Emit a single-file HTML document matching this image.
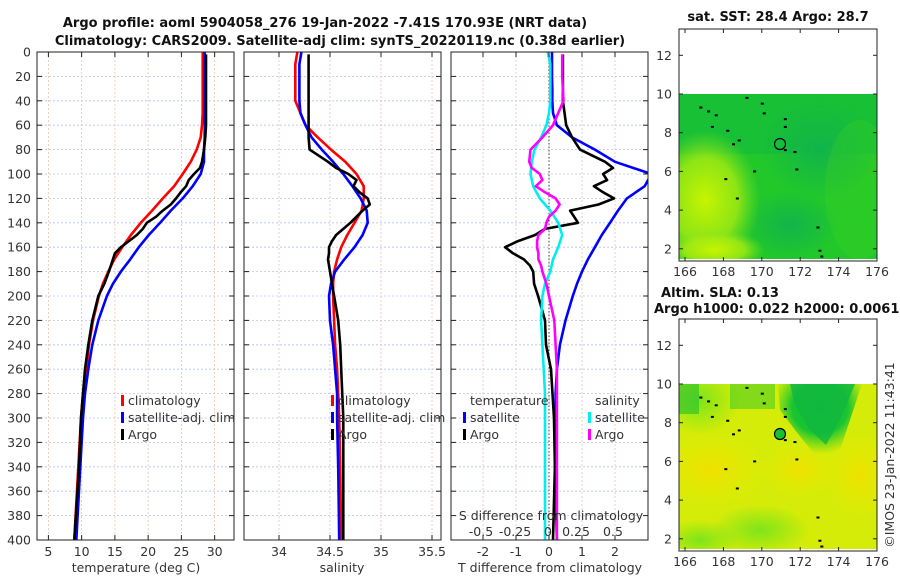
<!DOCTYPE html>
<html><head><meta charset="utf-8">
<style>
body{margin:0;background:#fff;}
svg{display:block;font-family:"DejaVu Sans","Liberation Sans",sans-serif;}
.t{font-size:12.5px;fill:#333;}
.b{font-size:13px;font-weight:bold;fill:#111;}
</style></head>
<body>
<svg id="fig" width="900" height="580" viewBox="0 0 900 580">
<defs>
<clipPath id="c1"><rect x="37" y="52" width="197" height="488"/></clipPath>
<clipPath id="c2"><rect x="244" y="52" width="197" height="488"/></clipPath>
<clipPath id="c3"><rect x="451" y="52" width="197" height="488"/></clipPath>
<clipPath id="m1"><rect x="679" y="94" width="198" height="165"/></clipPath>
<clipPath id="m2"><rect x="679" y="384" width="198" height="165"/></clipPath>
<radialGradient id="gy1" cx="0.5" cy="0.5" r="0.5"><stop offset="0" stop-color="#c8f400"/><stop offset="0.6" stop-color="#a8ec10" stop-opacity="0.8"/><stop offset="1" stop-color="#7ee020" stop-opacity="0"/></radialGradient>
<radialGradient id="gd1" cx="0.5" cy="0.5" r="0.5"><stop offset="0" stop-color="#12b44a"/><stop offset="1" stop-color="#12b44a" stop-opacity="0"/></radialGradient>
<radialGradient id="go2" cx="0.5" cy="0.5" r="0.5"><stop offset="0" stop-color="#f0e000"/><stop offset="1" stop-color="#e8ec00" stop-opacity="0"/></radialGradient>
<radialGradient id="gg2" cx="0.5" cy="0.5" r="0.5"><stop offset="0" stop-color="#7ee41a"/><stop offset="1" stop-color="#7ee41a" stop-opacity="0"/></radialGradient>
<radialGradient id="gv2" cx="0.5" cy="0.3" r="0.6"><stop offset="0" stop-color="#0fbe3a"/><stop offset="0.55" stop-color="#18c430"/><stop offset="1" stop-color="#40d020" stop-opacity="0"/></radialGradient>
</defs>

<text class="b" x="325" y="27" text-anchor="middle">Argo profile: aoml 5904058_276 19-Jan-2022 -7.41S 170.93E (NRT data)</text>
<text class="b" x="340" y="45" text-anchor="middle">Climatology: CARS2009. Satellite-adj clim: synTS_20220119.nc (0.38d earlier)</text>

<g id="grids"></g>
<g id="series"></g>
<g id="frames"></g>

<g>
<rect x="121" y="395" width="3" height="11" fill="#f00"/><text class="t" x="128" y="405">climatology</text>
<rect x="121" y="412" width="3" height="11" fill="#00f"/><text class="t" x="128" y="422">satellite-adj. clim</text>
<rect x="121" y="429" width="3" height="11" fill="#000"/><text class="t" x="128" y="439">Argo</text>
</g>
<g>
<rect x="331" y="395" width="3" height="11" fill="#f00"/><text class="t" x="338" y="405">climatology</text>
<rect x="331" y="412" width="3" height="11" fill="#00f"/><text class="t" x="338" y="422">satellite-adj. clim</text>
<rect x="331" y="429" width="3" height="11" fill="#000"/><text class="t" x="338" y="439">Argo</text>
</g>
<g>
<text class="t" x="470" y="405">temperature</text>
<rect x="463" y="412" width="3" height="11" fill="#00f"/><text class="t" x="470" y="422">satellite</text>
<rect x="463" y="429" width="3" height="11" fill="#000"/><text class="t" x="470" y="439">Argo</text>
<text class="t" x="595" y="405">salinity</text>
<rect x="588" y="412" width="3" height="11" fill="#0ee"/><text class="t" x="595" y="422">satellite</text>
<rect x="588" y="429" width="3" height="11" fill="#f0f"/><text class="t" x="595" y="439">Argo</text>
</g>
<text class="t" x="551" y="520" text-anchor="middle">S difference from climatology</text>
<g>
<text class="t" x="481" y="536" text-anchor="middle">-0.5</text>
<text class="t" x="515" y="536" text-anchor="middle">-0.25</text>
<text class="t" x="548" y="536" text-anchor="middle">0</text>
<text class="t" x="576" y="536" text-anchor="middle">0.25</text>
<text class="t" x="613" y="536" text-anchor="middle">0.5</text>
</g>
<text class="t" x="136" y="572" text-anchor="middle">temperature (deg C)</text>
<text class="t" x="342" y="572" text-anchor="middle">salinity</text>
<text class="t" x="550" y="572" text-anchor="middle">T difference from climatology</text>

<text class="b" x="778" y="21" text-anchor="middle">sat. SST: 28.4 Argo: 28.7</text>
<g clip-path="url(#m1)">
<rect x="679" y="94" width="198" height="165" fill="#22c82a"/>
<rect x="679" y="94" width="198" height="60" fill="#12bc3a" opacity="0.7"/>
<ellipse cx="820" cy="150" rx="60" ry="50" fill="url(#gd1)"/>
<ellipse cx="790" cy="225" rx="50" ry="35" fill="url(#gd1)"/>
<ellipse cx="705" cy="200" rx="55" ry="70" fill="url(#gy1)"/>
<ellipse cx="715" cy="250" rx="50" ry="20" fill="url(#gy1)"/>
<ellipse cx="860" cy="190" rx="35" ry="70" fill="#40d020" opacity="0.3"/>
</g>
<g clip-path="url(#m2)">
<rect x="679" y="384" width="198" height="165" fill="#d4ec08"/>
<ellipse cx="710" cy="470" rx="60" ry="40" fill="url(#go2)"/>
<ellipse cx="860" cy="475" rx="40" ry="45" fill="url(#go2)"/>
<ellipse cx="800" cy="470" rx="40" ry="30" fill="url(#go2)"/>
<ellipse cx="700" cy="540" rx="40" ry="20" fill="url(#gg2)"/>
<ellipse cx="760" cy="530" rx="50" ry="25" fill="url(#gg2)"/>
<ellipse cx="700" cy="400" rx="40" ry="35" fill="url(#gg2)"/>
<path d="M778 384 L862 384 L850 420 L840 450 L828 462 L815 455 L795 430 L780 410 Z" fill="url(#gv2)"/>
<path d="M790 384 L855 384 L840 420 L826 445 L810 430 L795 405 Z" fill="#10b840" opacity="0.8"/>
<rect x="679" y="384" width="20" height="30" fill="#20c030" opacity="0.6"/>
<rect x="730" y="384" width="45" height="25" fill="#30c828" opacity="0.5"/>
</g>
<g id="islands"></g>
<circle cx="780" cy="144" r="5.5" fill="none" stroke="#000" stroke-width="1.2"/>
<circle cx="780" cy="434" r="5.5" fill="#18c030" stroke="#000" stroke-width="1.2"/>
<text class="b" x="720" y="297" text-anchor="middle">Altim. SLA: 0.13</text>
<text class="b" x="654" y="313">Argo h1000: 0.022 h2000: 0.0061</text>
<text class="t" x="894" y="455" text-anchor="middle" transform="rotate(-90 894 455)">©IMOS 23-Jan-2022 11:43:41</text>
<g id="mapaxes"></g>
</svg>

<script>
// ---- data ----
const depthT = [0,10,20,30,40,50,60,70,80,90,100,110,120,130,140,150,160,170,180,190,200,220,240,260,280,300,340,400];
const tempClim = [28.2,28.2,28.2,28.2,28.2,28.2,28.1,27.9,27.3,26.4,25.2,23.9,22.2,20.6,18.9,17.4,16.1,14.9,14.0,13.2,12.6,11.7,11.1,10.7,10.2,9.9,9.5,8.9];
const tempSat = [28.5,28.5,28.5,28.5,28.5,28.5,28.5,28.5,28.4,28.4,27.9,26.7,25.2,23.4,21.8,20.1,18.6,17.3,15.9,14.7,13.8,12.5,11.6,11.0,10.5,10.2,9.8,9.2];
const depthArgo = [2,20,40,60,70,80,90,95,100,105,110,115,120,125,130,135,140,145,150,155,160,165,170,175,180,190,200,220,240,260,300,340,400];
const tempArgo = [28.7,28.7,28.7,28.7,28.6,28.4,28.1,27.8,26.9,26.1,25.7,24.9,24.2,23.4,22.2,21.2,19.8,19.2,18.3,17.1,15.9,15.0,14.7,14.4,14.1,13.4,12.5,11.6,11.0,10.5,9.9,9.6,8.9];
const salClim = [34.18,34.16,34.16,34.16,34.16,34.21,34.26,34.38,34.51,34.65,34.76,34.83,34.83,34.81,34.74,34.67,34.61,34.57,34.54,34.53,34.53,34.54,34.55,34.57,34.58,34.59,34.60,34.61];
const salSat = [34.22,34.20,34.20,34.20,34.20,34.21,34.26,34.32,34.42,34.53,34.63,34.72,34.80,34.86,34.87,34.82,34.74,34.64,34.55,34.51,34.49,34.50,34.53,34.55,34.57,34.57,34.58,34.59];
const salArgo = [34.29,34.29,34.29,34.29,34.29,34.30,34.48,34.56,34.68,34.76,34.73,34.79,34.87,34.89,34.82,34.76,34.70,34.63,34.56,34.52,34.49,34.49,34.48,34.49,34.50,34.52,34.54,34.58,34.60,34.61,34.63,34.63,34.63];
const dTsat = [0.09,0.09,0.09,0.1,0.1,0.12,0.24,0.70,1.39,2.0,3.1,2.9,2.36,2.09,1.85,1.6,1.39,1.18,1.0,0.85,0.72,0.5,0.33,0.24,0.2,0.2,0.18,0.24];
const dTargo = [0.42,0.42,0.42,0.52,0.7,0.94,1.7,1.94,1.64,1.76,1.36,1.64,1.97,1.5,0.64,0.76,0.88,-0.12,-0.42,-0.94,-1.33,-1.09,-0.76,-0.58,-0.48,-0.45,-0.33,-0.12,-0.09,0.06,0.15,0.18,0.12];
const dSsat = [-0.01,0.01,0.01,0.01,0.01,0.0,-0.02,-0.06,-0.11,-0.13,-0.14,-0.12,-0.07,0.01,0.07,0.10,0.07,0.03,0.01,-0.03,-0.05,-0.06,-0.05,-0.04,-0.03,-0.03,-0.03,-0.03];
const dSargo = [0.1,0.1,0.11,0.03,-0.05,-0.14,-0.15,-0.13,-0.07,-0.05,-0.10,-0.03,0.05,0.08,0.05,0.0,-0.02,-0.03,-0.08,-0.09,-0.09,-0.08,-0.08,-0.06,-0.05,-0.02,0.0,0.04,0.05,0.06,0.06,0.06,0.06];
const depthTicks = [0,20,40,60,80,100,120,140,160,180,200,220,240,260,280,300,320,340,360,380,400];
const tempTicks = [5,10,15,20,25,30];
const salTicks = [34,34.5,35,35.5];
const salTickLabels = ["34","34.5","35","35.5"];
const diffTicks = [-2,-1,0,1,2];
const mapLonTicks = [166,168,170,172,174,176];
const mapLatTicks = [2,4,6,8,10,12];

// ---- scales ----
const NS='http://www.w3.org/2000/svg';
const yD = d => 52 + d*1.22;
const xT = t => 48.4 + (t-5)*6.65;
const xS = s => 279 + (s-34)*102;
const xDT = v => 549 + v*33;
const xDS = v => 549 + v*132;
const mLon = l => 685 + (l-166)*19.2;
const mLat1 = l => 94 + (10-l)*19.35;
const mLat2 = l => 384 + (10-l)*19.35;

function el(tag, attrs, parent){const e=document.createElementNS(NS,tag);for(const k in attrs)e.setAttribute(k,attrs[k]);parent.appendChild(e);return e;}
const grids=document.getElementById('grids'), series=document.getElementById('series'), frames=document.getElementById('frames'), mapaxes=document.getElementById('mapaxes');

const panels=[{x0:37,clip:'c1',ticks:tempTicks,sx:xT,labels:tempTicks.map(String),name:'temperature'},
              {x0:244,clip:'c2',ticks:salTicks,sx:xS,labels:salTickLabels,name:'salinity'},
              {x0:451,clip:'c3',ticks:diffTicks,sx:xDT,labels:diffTicks.map(String),name:'difference'}];
panels.forEach((p,i)=>{
  depthTicks.forEach(d=>{
    const g=el('line',{x1:p.x0,x2:p.x0+197,y1:yD(d),y2:yD(d),stroke:'#b8c4ec','stroke-width':0.8,'stroke-dasharray':'2,2'},grids);
    
    
    el('line',{x1:p.x0,x2:p.x0+5,y1:yD(d),y2:yD(d),stroke:'#222'},frames);
    el('line',{x1:p.x0+197,x2:p.x0+192,y1:yD(d),y2:yD(d),stroke:'#222'},frames);
  });
  p.ticks.forEach((t,j)=>{
    const x=p.sx(t);
    const g=el('line',{x1:x,x2:x,y1:52,y2:540,stroke:'#e4c4b0','stroke-width':0.8,'stroke-dasharray':'2,2'},grids);
    
    
    el('line',{x1:x,x2:x,y1:540,y2:535,stroke:'#222'},frames);
    el('line',{x1:x,x2:x,y1:52,y2:57,stroke:'#222'},frames);
    const tx=el('text',{x:x,y:556,'text-anchor':'middle',class:'t'},frames);
    tx.textContent=p.labels[j];
    
    
  });
  const fr=el('rect',{x:p.x0,y:52,width:197,height:488,fill:'none',stroke:'#222','stroke-width':1},frames);
  
  
});
depthTicks.forEach(d=>{
  const tx=el('text',{x:31,y:yD(d)+4.5,'text-anchor':'end',class:'t'},frames);
  tx.textContent=String(d);
  
  
});
const z=el('line',{x1:xDT(0),x2:xDT(0),y1:52,y2:540,stroke:'#444','stroke-width':1,'stroke-dasharray':'1.5,2'},grids);



function line(depths, vals, sx, color, clip, name){
  const d=vals.map((v,i)=>(i?'L':'M')+sx(v).toFixed(1)+' '+yD(depths[i]).toFixed(1)).join(' ');
  const p=el('path',{d:d,fill:'none',stroke:color,'stroke-width':2.6,'stroke-linejoin':'round','clip-path':'url(#'+clip+')'},series);
  
  
}
line(depthT,tempClim,xT,'#f00','c1','temp-climatology-line');
line(depthT,tempSat,xT,'#00f','c1','temp-satellite-line');
line(depthArgo,tempArgo,xT,'#000','c1','temp-argo-line');
line(depthT,salClim,xS,'#f00','c2','sal-climatology-line');
line(depthT,salSat,xS,'#00f','c2','sal-satellite-line');
line(depthArgo,salArgo,xS,'#000','c2','sal-argo-line');
line(depthT,dTsat,xDT,'#00f','c3','tdiff-satellite-line');
line(depthArgo,dTargo,xDT,'#000','c3','tdiff-argo-line');
line(depthT,dSsat,xDS,'#0ee','c3','sdiff-satellite-line');
line(depthArgo,dSargo,xDS,'#f0f','c3','sdiff-argo-line');

[[29,mLat1,'sst'],[319,mLat2,'sla']].forEach(([top,ml,nm])=>{
  const bottom=top+232;
  const fr=el('rect',{x:679,y:top,width:198,height:232,fill:'none',stroke:'#222'},mapaxes);
  
  
  mapLatTicks.forEach(l=>{
    const y=ml(l);
    el('line',{x1:679,x2:683,y1:y,y2:y,stroke:'#222'},mapaxes);
    el('line',{x1:877,x2:873,y1:y,y2:y,stroke:'#222'},mapaxes);
    const t=el('text',{x:672,y:y+4.5,'text-anchor':'end',class:'t'},mapaxes);
    t.textContent=String(l);
    
    
  });
  mapLonTicks.forEach(l=>{
    const x=mLon(l);
    el('line',{x1:x,x2:x,y1:bottom,y2:bottom-4,stroke:'#222'},mapaxes);
    el('line',{x1:x,x2:x,y1:top,y2:top+4,stroke:'#222'},mapaxes);
    const t=el('text',{x:x,y:bottom+15,'text-anchor':'middle',class:'t'},mapaxes);
    t.textContent=String(l);
    
    
  });
});
const islandLon=[169.2,170.0,170.1,167.2,167.6,166.8,171.2,171.2,168.5,168.8,169.6,168.1,168.7,171.2,171.7,171.8,172.9,173.0,173.1,167.4,168.2];
const islandLat=[9.8,9.5,9.0,9.1,8.9,9.3,8.7,8.3,7.4,7.6,6.0,5.6,4.6,7.1,7.0,6.1,3.1,1.9,1.6,8.3,8.1];
const isl=document.getElementById('islands');
[mLat1,mLat2].forEach(ml=>{
  islandLon.forEach((lo,i)=>{
    const r=el('rect',{x:mLon(lo)-1,y:ml(islandLat[i])-1,width:3,height:2,fill:'#000'},isl);
    
    
  });
});
</script>
</body></html>
